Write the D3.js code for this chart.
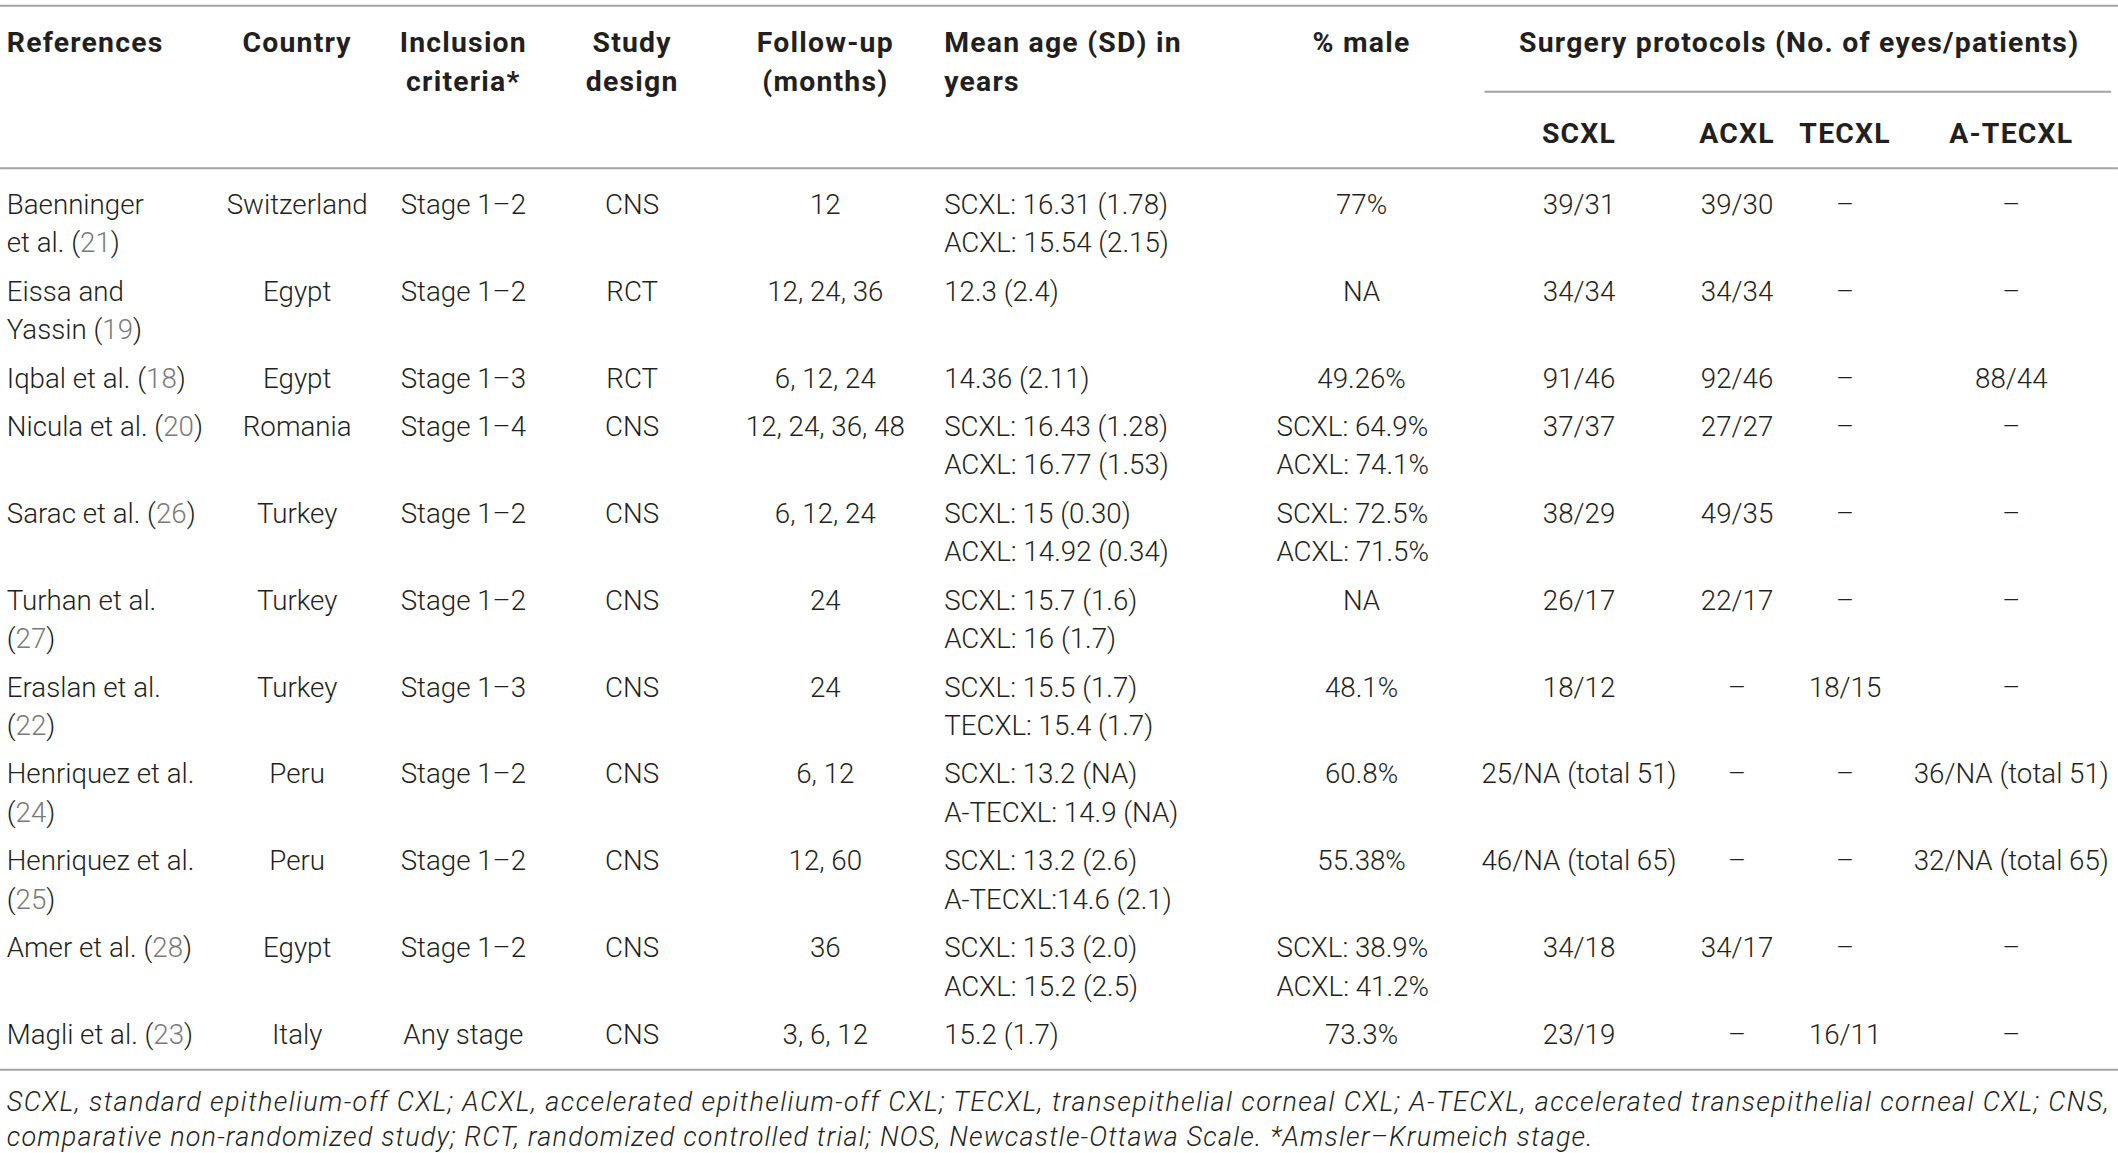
<!DOCTYPE html>
<html>
<head>
<meta charset="utf-8">
<script src="https://cdn.jsdelivr.net/npm/d3@7"></script>
<style>
  html, body { margin: 0; padding: 0; background: #fff; }
  svg { display: block; }
  text { font-family: Roboto, "Liberation Sans", sans-serif; fill: #231f20; }
  .body { font-weight: 300; font-size: 20.5px; }
  .head { font-weight: 700; font-size: 21px; letter-spacing: 0.9px; }
  .note { font-weight: 300; font-style: italic; font-size: 20px; letter-spacing: 0.88px; }
  .refnum { fill: #7a7a7a; }
</style>
</head>
<body>
<svg id="d3-svg"></svg>
<script>
// table content, one array per column
const references = [
    ["Baenninger", "et al."], ["Eissa and", "Yassin"], ["Iqbal et al."], ["Nicula et al."],
    ["Sarac et al."], ["Turhan et al.", ""], ["Eraslan et al.", ""], ["Henriquez et al.", ""],
    ["Henriquez et al.", ""], ["Amer et al."], ["Magli et al."]
];
const refNums = ["21", "19", "18", "20", "26", "27", "22", "24", "25", "28", "23"];
const countries = ["Switzerland", "Egypt", "Egypt", "Romania", "Turkey", "Turkey", "Turkey", "Peru", "Peru", "Egypt", "Italy"];
const criteria = ["Stage 1–2", "Stage 1–2", "Stage 1–3", "Stage 1–4", "Stage 1–2", "Stage 1–2", "Stage 1–3", "Stage 1–2", "Stage 1–2", "Stage 1–2", "Any stage"];
const designs = ["CNS", "RCT", "RCT", "CNS", "CNS", "CNS", "CNS", "CNS", "CNS", "CNS", "CNS"];
const followUps = ["12", "12, 24, 36", "6, 12, 24", "12, 24, 36, 48", "6, 12, 24", "24", "24", "6, 12", "12, 60", "36", "3, 6, 12"];
const meanAges = [
    ["SCXL: 16.31 (1.78)", "ACXL: 15.54 (2.15)"], ["12.3 (2.4)"], ["14.36 (2.11)"],
    ["SCXL: 16.43 (1.28)", "ACXL: 16.77 (1.53)"], ["SCXL: 15 (0.30)", "ACXL: 14.92 (0.34)"],
    ["SCXL: 15.7 (1.6)", "ACXL: 16 (1.7)"], ["SCXL: 15.5 (1.7)", "TECXL: 15.4 (1.7)"],
    ["SCXL: 13.2 (NA)", "A-TECXL: 14.9 (NA)"], ["SCXL: 13.2 (2.6)", "A-TECXL:14.6 (2.1)"],
    ["SCXL: 15.3 (2.0)", "ACXL: 15.2 (2.5)"], ["15.2 (1.7)"]
];
const pctMale = [
    ["77%"], ["NA"], ["49.26%"], ["SCXL: 64.9%", "ACXL: 74.1%"], ["SCXL: 72.5%", "ACXL: 71.5%"],
    ["NA"], ["48.1%"], ["60.8%"], ["55.38%"], ["SCXL: 38.9%", "ACXL: 41.2%"], ["73.3%"]
];
const scxl = ["39/31", "34/34", "91/46", "37/37", "38/29", "26/17", "18/12", "25/NA (total 51)", "46/NA (total 65)", "34/18", "23/19"];
const acxl = ["39/30", "34/34", "92/46", "27/27", "49/35", "22/17", "–", "–", "–", "34/17", "–"];
const tecxl = ["–", "–", "–", "–", "–", "–", "18/15", "–", "–", "–", "16/11"];
const atecxl = ["–", "–", "88/44", "–", "–", "–", "–", "36/NA (total 51)", "32/NA (total 65)", "–", "–"];

const headers = [
    { key: "ref", lines: ["References"] },
    { key: "country", lines: ["Country"] },
    { key: "criteria", lines: ["Inclusion", "criteria*"] },
    { key: "design", lines: ["Study", "design"] },
    { key: "follow", lines: ["Follow-up", "(months)"] },
    { key: "age", lines: ["Mean age (SD) in", "years"] },
    { key: "male", lines: ["% male"] }
];
const groupHeader = "Surgery protocols (No. of eyes/patients)";
const protocols = ["SCXL", "ACXL", "TECXL", "A-TECXL"];
const footnotes = [
    "SCXL, standard epithelium-off CXL; ACXL, accelerated epithelium-off CXL; TECXL, transepithelial corneal CXL; A-TECXL, accelerated transepithelial corneal CXL; CNS,",
    "comparative non-randomized study; RCT, randomized controlled trial; NOS, Newcastle-Ottawa Scale. *Amsler–Krumeich stage."
];

// layout is done in the 1568 px wide units of the source page, then scaled up
const width = 1568;
const height = 853.6;
const lineH = 28.5;
const rowGap = 35.8;
const firstRow = 151;
const dy = "0.36em";

const colX = d3.scaleOrdinal()
    .domain(["ref", "country", "criteria", "design", "follow", "age", "male", "SCXL", "ACXL", "TECXL", "A-TECXL", "group"])
    .range([5, 220, 343, 468, 611, 699, 1008, 1169, 1286, 1366, 1489, 1332]);
const leftCols = new Set(["ref", "age"]);
const anchor = key => leftCols.has(key) ? "start" : "middle";

const svg = d3.select("svg#d3-svg")
    .attr("width", 2118)
    .attr("height", 1153)
    .attr("viewBox", [0, 0, width, height]);

function rule(y, x1, x2) {
    svg.append("line")
        .attr("x1", x1).attr("x2", x2)
        .attr("y1", y).attr("y2", y)
        .attr("stroke", "#a3a3a3")
        .attr("stroke-width", 1.5);
}

rule(4.3, 0, width);
rule(68, 1099, 1563);
rule(124.5, 0, width);

// header
headers.forEach(h => {
    h.lines.forEach((line, j) => {
        svg.append("text")
            .attr("class", "head")
            .attr("x", colX(h.key))
            .attr("y", 31 + j * 29)
            .attr("dy", dy)
            .attr("text-anchor", anchor(h.key))
            .text(line);
    });
});
svg.append("text")
    .attr("class", "head")
    .attr("x", colX("group"))
    .attr("y", 31)
    .attr("dy", dy)
    .attr("text-anchor", "middle")
    .text(groupHeader);
svg.selectAll("text.proto")
    .data(protocols)
    .join("text")
        .attr("class", "head proto")
        .attr("x", d => colX(d))
        .attr("y", 98.5)
        .attr("dy", dy)
        .attr("text-anchor", "middle")
        .text(d => d);

// body rows
const rows = references.map((ref, i) => ({
    ref: ref,
    refNum: refNums[i],
    country: [countries[i]],
    criteria: [criteria[i]],
    design: [designs[i]],
    follow: [followUps[i]],
    age: meanAges[i],
    male: pctMale[i],
    "SCXL": [scxl[i]],
    "ACXL": [acxl[i]],
    "TECXL": [tecxl[i]],
    "A-TECXL": [atecxl[i]]
}));

let y = firstRow;
rows.forEach(row => {
    const cells = ["country", "criteria", "design", "follow", "age", "male", ...protocols];
    const nLines = d3.max([row.ref.length, ...cells.map(k => row[k].length)]);

    const g = svg.append("g").attr("transform", `translate(0,${y})`);

    // reference cell: last line carries the gray citation number
    row.ref.forEach((line, j) => {
        const t = g.append("text")
            .attr("class", "body")
            .attr("x", colX("ref"))
            .attr("y", j * lineH)
            .attr("dy", dy)
            .text(line);
        if (j === row.ref.length - 1) {
            const pre = line === "" ? "(" : " (";
            t.append("tspan").text(pre);
            t.append("tspan").attr("class", "refnum").text(row.refNum);
            t.append("tspan").text(")");
        }
    });

    cells.forEach(key => {
        row[key].forEach((line, j) => {
            g.append("text")
                .attr("class", "body")
                .attr("x", colX(key))
                .attr("y", j * lineH)
                .attr("dy", dy)
                .attr("text-anchor", key === "male" && row[key].length > 1 ? "start" : anchor(key))
                .attr("dx", key === "male" && row[key].length > 1 ? -63 : 0)
                .text(line);
        });
    });

    y += (nLines - 1) * lineH + rowGap;
});

rule(792, 0, width);

// first footnote line runs the full width, like justified text
footnotes.forEach((line, j) => {
    const t = svg.append("text")
        .attr("class", "note")
        .attr("x", 5)
        .attr("y", 815 + j * 26.5)
        .attr("dy", dy)
        .text(line);
    if (j === 0) t.attr("textLength", 1557).attr("lengthAdjust", "spacing");
});
</script>
</body>
</html>
